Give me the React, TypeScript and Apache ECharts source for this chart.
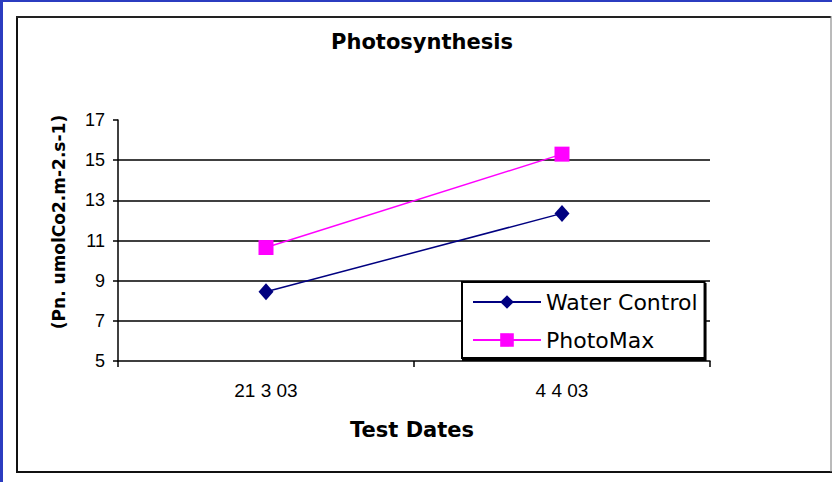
import React, { useEffect, useRef } from "react";
import * as echarts from "echarts";

const categories = ["21 3 03", "4 4 03"];
const waterControl = [8.45, 12.35];
const photoMax = [10.65, 15.3];
const seriesNames = ["Water Control", "PhotoMax"];
const titleText = "Photosynthesis";
const yAxisTitle = "(Pn. umolCo2.m-2.s-1)";
const xAxisTitle = "Test Dates";
const yMin = 5;
const yMax = 17;
const yStep = 2;

export default function App() {
  const ref = useRef<HTMLDivElement>(null);
  useEffect(() => {
    if (!ref.current) return;
    const chart = echarts.init(ref.current, null, { renderer: "svg" });
    chart.setOption({
      animation: false,
      backgroundColor: "#ffffff",
      title: {
        text: titleText,
        left: 422,
        top: 31,
        padding: 0,
        textAlign: "center",
        textStyle: { fontFamily: "DejaVu Sans", fontWeight: "bold", fontSize: 21, color: "#000" },
      },
      graphic: [
        { type: "rect", z: -10, silent: true, shape: { x: 0, y: 0, width: 3, height: 482 }, style: { fill: "#2b3cc0" } },
        { type: "rect", z: -10, silent: true, shape: { x: 0, y: 0, width: 832, height: 2 }, style: { fill: "#2b3cc0" } },
        { type: "line", z: -10, silent: true, shape: { x1: 17, y1: 16, x2: 17, y2: 473 }, style: { stroke: "#111", lineWidth: 2 } },
        { type: "line", z: -10, silent: true, shape: { x1: 16, y1: 17, x2: 831, y2: 17 }, style: { stroke: "#222", lineWidth: 2 } },
        { type: "line", z: -10, silent: true, shape: { x1: 16, y1: 472, x2: 832, y2: 472 }, style: { stroke: "#111", lineWidth: 2 } },
        { type: "line", z: -10, silent: true, shape: { x1: 831, y1: 16, x2: 831, y2: 472 }, style: { stroke: "#777", lineWidth: 1 } },
        {
          type: "text",
          x: 59,
          y: 222,
          rotation: Math.PI / 2,
          style: {
            text: yAxisTitle,
            fontFamily: "DejaVu Sans",
            fontWeight: "bold",
            fontSize: 17,
            fill: "#000",
            align: "center",
            verticalAlign: "middle",
          },
        },
      ],
      legend: {
        orient: "vertical",
        left: 462,
        top: 282,
        padding: [8, 7, 6, 10],
        itemGap: 14,
        itemWidth: 68,
        itemHeight: 17,
        backgroundColor: "#fff",
        borderColor: "#000",
        borderWidth: 2,
        borderRadius: 0,
        shadowColor: "#000",
        shadowOffsetX: 1,
        shadowOffsetY: 2,
        shadowBlur: 0,
        data: seriesNames,
        textStyle: { fontFamily: "DejaVu Sans", fontSize: 22, color: "#000", lineHeight: 24 },
      },
      grid: { left: 118, right: 122, top: 120, bottom: 121 },
      xAxis: {
        type: "category",
        data: categories,
        boundaryGap: true,
        name: xAxisTitle,
        nameLocation: "middle",
        nameGap: 58,
        nameTextStyle: { fontFamily: "DejaVu Sans", fontWeight: "bold", fontSize: 21, color: "#000", padding: [0, 4, 0, 0] },
        axisLine: { lineStyle: { color: "#000", width: 1.5 } },
        axisTick: { show: true, length: 6, lineStyle: { color: "#000", width: 1.5 } },
        axisLabel: { margin: 20, fontFamily: "Liberation Sans", fontSize: 19, color: "#000" },
        splitLine: { show: false },
      },
      yAxis: {
        type: "value",
        min: yMin,
        max: yMax,
        interval: yStep,
        axisLine: { show: true, lineStyle: { color: "#000", width: 1.5 } },
        axisTick: { show: true, length: 5, lineStyle: { color: "#000", width: 1.5 } },
        axisLabel: { margin: 13, fontFamily: "Liberation Sans", fontSize: 18, color: "#000" },
        splitLine: { show: true, showMinLine: false, showMaxLine: false, lineStyle: { color: "#000", width: 1.5 } },
      },
      series: [
        {
          name: seriesNames[0],
          type: "line",
          data: waterControl,
          symbol: "diamond",
          symbolSize: [15, 17],
          lineStyle: { color: "#000080", width: 1.5 },
          itemStyle: { color: "#000080" },
        },
        {
          name: seriesNames[1],
          type: "line",
          data: photoMax,
          symbol: "rect",
          symbolSize: 15,
          lineStyle: { color: "#ff00ff", width: 1.5 },
          itemStyle: { color: "#ff00ff" },
        },
      ],
    });
    return () => chart.dispose();
  }, []);
  return (
    <div
      ref={ref}
      style={{ position: "absolute", left: 0, top: 0, width: 832, height: 482, background: "#fff" }}
    />
  );
}
